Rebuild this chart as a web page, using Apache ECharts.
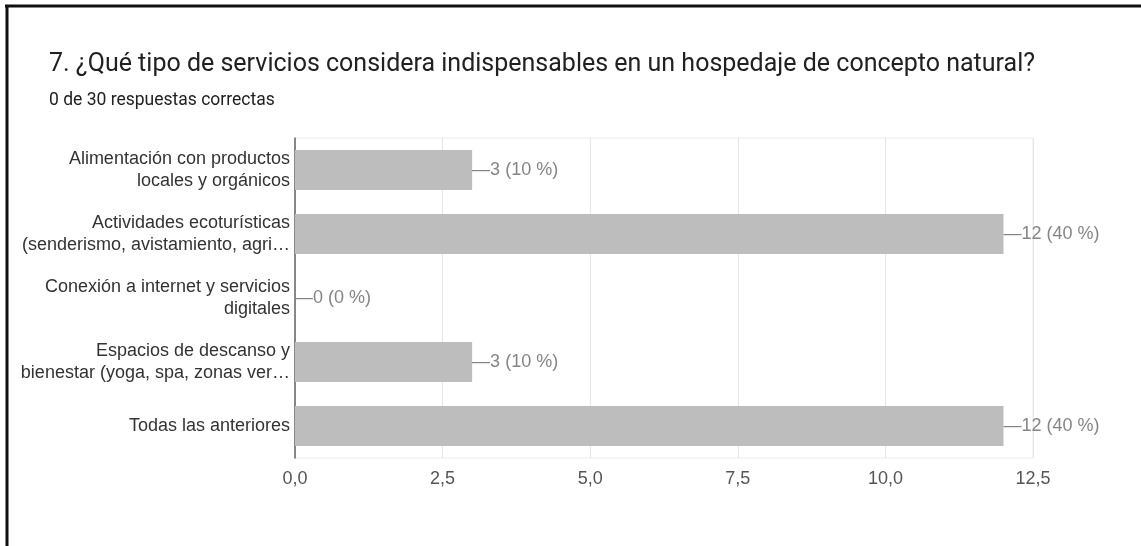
<!DOCTYPE html>
<html>
<head>
<meta charset="utf-8">
<script src="https://cdn.jsdelivr.net/npm/echarts@6/dist/echarts.min.js"></script>
<style>
html,body{margin:0;padding:0;background:#fff;}
#chart{width:1141px;height:546px;}
</style>
</head>
<body>
<div id="chart"></div>
<script>
const titleText = '7. ¿Qué tipo de servicios considera indispensables en un hospedaje de concepto natural?';
const subtitleText = '0 de 30 respuestas correctas';
const categories = [
  'Alimentación con productos\nlocales y orgánicos',
  'Actividades ecoturísticas\n(senderismo, avistamiento, agri…',
  'Conexión a internet y servicios\ndigitales',
  'Espacios de descanso y\nbienestar (yoga, spa, zonas ver…',
  'Todas las anteriores'
];
const counts = [3, 12, 0, 3, 12];
const totalResponses = 30;
const xTicks = [0, 2.5, 5, 7.5, 10, 12.5];

const chart = echarts.init(document.getElementById('chart'));
const labelFont = '"Liberation Sans", Arial, sans-serif';

chart.setOption({
  animation: false,
  backgroundColor: '#fff',
  title: [
    { text: titleText, left: 44, top: 47,
      textStyle: { fontFamily: 'Roboto', fontSize: 25, fontWeight: 'normal', color: '#202124' } },
    { text: subtitleText, left: 44, top: 87,
      textStyle: { fontFamily: 'Roboto', fontSize: 17.5, fontWeight: 'normal', color: '#202124' } }
  ],
  graphic: [
    { type: 'line', shape: { x1: 5, y1: 6, x2: 1141, y2: 6 }, style: { stroke: '#111', lineWidth: 3 } },
    { type: 'line', shape: { x1: 7, y1: 5, x2: 7, y2: 546 }, style: { stroke: '#111', lineWidth: 3 } }
  ],
  grid: { left: 295, right: 108, top: 138, bottom: 88, show: true, borderColor: '#ececec', borderWidth: 1, containLabel: false },
  xAxis: {
    type: 'value', min: xTicks[0], max: xTicks[xTicks.length - 1], interval: xTicks[1] - xTicks[0],
    axisLine: { show: false }, axisTick: { show: false },
    splitLine: { lineStyle: { color: '#e6e6e6', width: 1 } },
    axisLabel: { color: '#555', fontSize: 18, fontFamily: labelFont, margin: 12,
      formatter: v => v.toFixed(1).replace('.', ',') }
  },
  yAxis: {
    type: 'category', data: categories, inverse: true,
    axisLine: { show: true, lineStyle: { color: '#666', width: 1.5 } },
    axisTick: { show: false },
    axisLabel: { color: '#333', fontSize: 18, fontFamily: labelFont, lineHeight: 22, margin: 5, align: 'right' }
  },
  series: [{
    type: 'bar', data: counts, barWidth: '62.5%',
    itemStyle: { color: '#bdbdbd' },
    label: {
      show: true, position: 'right', distance: 0,
      color: '#858585', fontSize: 18, fontFamily: labelFont,
      formatter: p => '—' + p.value + ' (' + Math.round(p.value / totalResponses * 100) + ' %)'
    }
  }]
});
</script>
</body>
</html>
